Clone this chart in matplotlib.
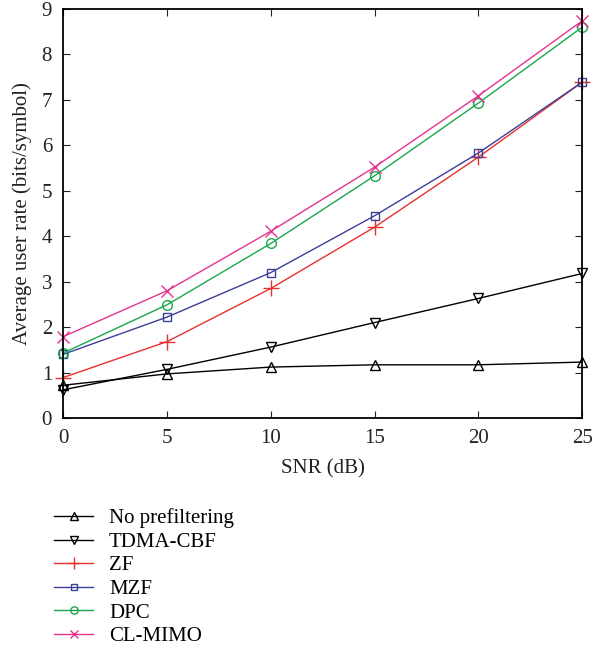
import numpy as np
import matplotlib.pyplot as plt

snr = [0, 5, 10, 15, 20, 25]
no_prefilter = [0.72, 0.97, 1.12, 1.17, 1.17, 1.23]
tdma_cbf = [0.62, 1.07, 1.56, 2.10, 2.63, 3.18]
zf = [0.89, 1.68, 2.85, 4.20, 5.74, 7.39]
mzf = [1.40, 2.22, 3.20, 4.45, 5.83, 7.39]
dpc = [1.43, 2.49, 3.84, 5.33, 6.93, 8.60]
cl_mimo = [1.79, 2.80, 4.11, 5.52, 7.09, 8.74]

plt.rcParams["font.family"] = "Liberation Serif"

fig = plt.figure(figsize=(6.02, 6.46), dpi=100)
ax = fig.add_axes([0.105, 0.353, 0.862, 0.633])

kw = dict(lw=1, mew=1, clip_on=False)
ax.plot(snr, no_prefilter, "-^", color="black", ms=7, mfc="none", label="No prefiltering", **kw)
ax.plot(snr, tdma_cbf, "-v", color="black", ms=7, mfc="none", label="TDMA-CBF", **kw)
ax.plot(snr, zf, "-+", color="#e8302e", ms=11, label="ZF", **kw)
ax.plot(snr, mzf, "-s", color="#3a3f98", ms=6, mfc="none", label="MZF", **kw)
ax.plot(snr, dpc, "-o", color="#1aa64d", ms=7, mfc="none", label="DPC", **kw)
ax.plot(snr, cl_mimo, "-x", color="#e6338f", ms=8, label="CL-MIMO", **kw)

ax.set_xlim(0, 25)
ax.set_ylim(0, 9)
ax.set_xticks(snr)
ax.set_yticks(range(10))
ax.tick_params(direction="in", top=True, right=True, length=5, labelsize=15, colors="#222222")
ax.tick_params(axis="x", pad=8)
ax.tick_params(axis="y", pad=8)
for s in ax.spines.values():
    s.set_linewidth(1.3)
ax.set_xlabel("SNR (dB)", fontsize=15, color="#222222", labelpad=8)
ax.set_ylabel("Average user rate (bits/symbol)", fontsize=15, color="#222222", labelpad=7)

fig.legend(loc="upper left", bbox_to_anchor=(0.072, 0.229), frameon=False,
           fontsize=15, handlelength=1.9, labelspacing=0.19, handletextpad=0.75,
           borderpad=0, markerscale=0.75)

fig.savefig("out.png", dpi=100)
